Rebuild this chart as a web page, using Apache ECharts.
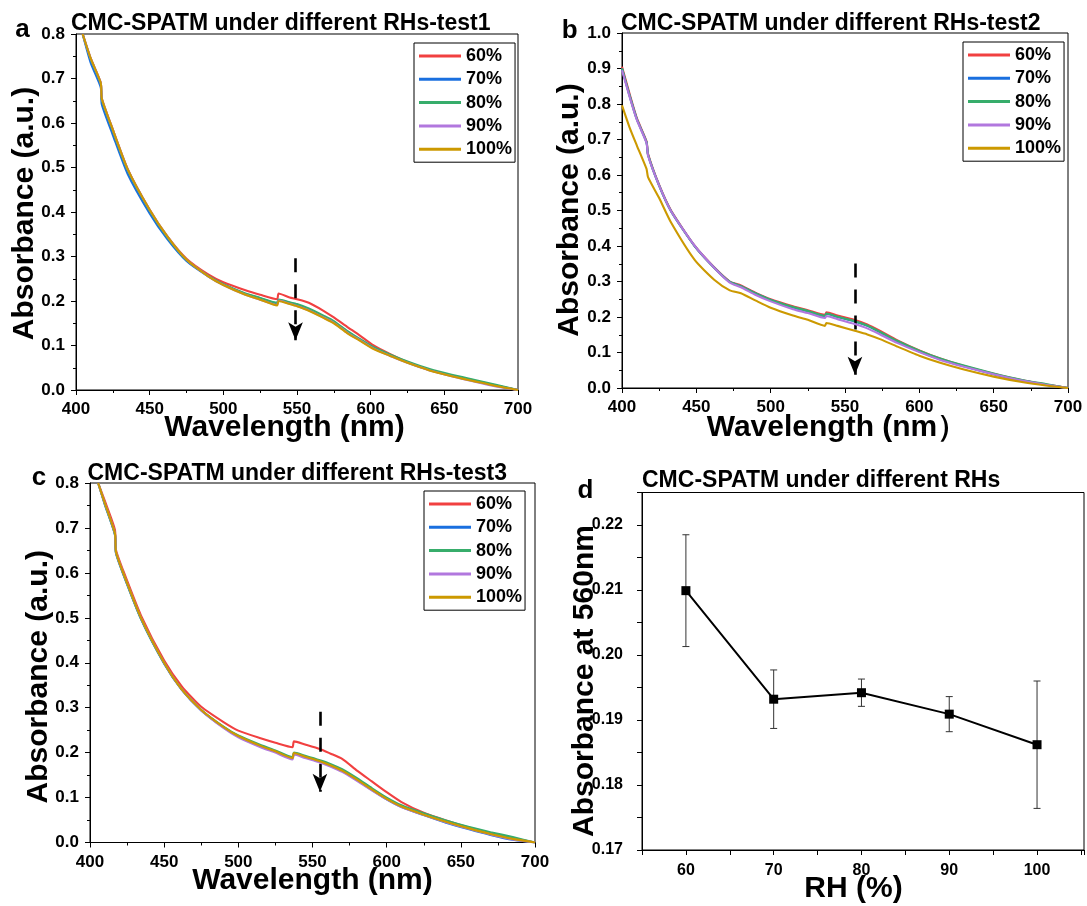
<!DOCTYPE html>
<html>
<head>
<meta charset="utf-8">
<script src="https://cdn.jsdelivr.net/npm/echarts@6/dist/echarts.min.js"></script>
<style>
html,body{margin:0;padding:0;background:#fff;}
#chart{width:1087px;height:906px;}
</style>
</head>
<body>
<div id="chart"></div>
<script>
// ---------------- DATA ----------------
const RH_NAMES = ['60%', '70%', '80%', '90%', '100%'];
const COLORS = ['#F14040', '#1A6FDF', '#37AD6B', '#B177DE', '#CC9900'];

// Panel a (test1)
const W_A = [404.5, 410, 416.8, 417.5, 425, 435, 450, 462, 475, 490, 500, 515, 525, 536.5, 537.5, 545, 550, 558, 568, 575, 584, 592, 602, 613, 625, 640, 655, 670, 685, 700];
const A60  = [0.800, 0.745, 0.690, 0.655, 0.585, 0.497, 0.405, 0.345, 0.295, 0.259, 0.242, 0.224, 0.214, 0.204, 0.217, 0.208, 0.204, 0.196, 0.178, 0.163, 0.142, 0.124, 0.100, 0.081, 0.063, 0.045, 0.032, 0.021, 0.010, 0.000];
const A70  = [0.800, 0.735, 0.680, 0.642, 0.573, 0.486, 0.397, 0.339, 0.290, 0.255, 0.237, 0.216, 0.206, 0.195, 0.202, 0.196, 0.191, 0.181, 0.165, 0.153, 0.131, 0.114, 0.094, 0.078, 0.062, 0.045, 0.032, 0.021, 0.010, 0.000];
const A80  = [0.800, 0.743, 0.688, 0.652, 0.582, 0.494, 0.403, 0.343, 0.292, 0.256, 0.238, 0.217, 0.207, 0.196, 0.203, 0.197, 0.193, 0.183, 0.167, 0.155, 0.133, 0.116, 0.096, 0.080, 0.064, 0.047, 0.034, 0.023, 0.012, 0.000];
const A90  = [0.800, 0.745, 0.690, 0.655, 0.585, 0.497, 0.405, 0.345, 0.293, 0.255, 0.236, 0.214, 0.203, 0.191, 0.201, 0.194, 0.189, 0.179, 0.163, 0.151, 0.129, 0.113, 0.093, 0.077, 0.061, 0.044, 0.031, 0.019, 0.008, 0.000];
const A100 = [0.800, 0.745, 0.690, 0.655, 0.585, 0.497, 0.405, 0.345, 0.293, 0.255, 0.236, 0.214, 0.203, 0.190, 0.200, 0.193, 0.188, 0.178, 0.162, 0.150, 0.128, 0.112, 0.092, 0.077, 0.061, 0.044, 0.031, 0.020, 0.009, 0.000];

// Panel b (test2)
const W_B = [400, 405, 410, 416.5, 417.5, 425, 433, 449, 462, 472.5, 480, 490, 500, 515, 525, 536.5, 537.5, 545, 556, 565, 574, 585, 600, 614, 630, 650, 670, 685, 700];
const B60  = [0.905, 0.830, 0.760, 0.695, 0.660, 0.572, 0.500, 0.400, 0.340, 0.300, 0.289, 0.268, 0.250, 0.230, 0.219, 0.206, 0.213, 0.204, 0.192, 0.179, 0.160, 0.135, 0.106, 0.083, 0.062, 0.040, 0.021, 0.010, 0.000];
const B70  = [0.900, 0.825, 0.757, 0.692, 0.657, 0.570, 0.498, 0.399, 0.339, 0.299, 0.287, 0.266, 0.248, 0.227, 0.216, 0.202, 0.209, 0.200, 0.188, 0.175, 0.156, 0.131, 0.103, 0.081, 0.061, 0.039, 0.020, 0.009, 0.000];
const B80  = [0.900, 0.825, 0.757, 0.692, 0.657, 0.570, 0.498, 0.399, 0.339, 0.299, 0.287, 0.266, 0.248, 0.228, 0.217, 0.203, 0.210, 0.201, 0.189, 0.176, 0.157, 0.133, 0.105, 0.083, 0.063, 0.041, 0.022, 0.011, 0.000];
const B90  = [0.895, 0.822, 0.755, 0.690, 0.655, 0.570, 0.498, 0.400, 0.339, 0.297, 0.284, 0.262, 0.244, 0.222, 0.211, 0.197, 0.203, 0.194, 0.181, 0.168, 0.150, 0.127, 0.101, 0.079, 0.060, 0.039, 0.020, 0.009, 0.000];
const B100 = [0.796, 0.735, 0.683, 0.617, 0.594, 0.535, 0.466, 0.360, 0.305, 0.275, 0.267, 0.246, 0.226, 0.204, 0.192, 0.175, 0.183, 0.175, 0.162, 0.151, 0.137, 0.117, 0.091, 0.071, 0.052, 0.032, 0.016, 0.007, 0.000];

// Panel c (test3)
const W_C = [405.5, 410, 416.8, 417.5, 422.4, 434.4, 450, 462, 475, 490, 500, 515, 525, 536.5, 537.5, 545, 555, 562, 570, 580, 590, 600, 610, 625, 640, 655, 670, 685, 700];
const C60  = [0.800, 0.760, 0.696, 0.651, 0.605, 0.505, 0.405, 0.347, 0.302, 0.268, 0.249, 0.232, 0.222, 0.212, 0.225, 0.218, 0.208, 0.198, 0.186, 0.160, 0.136, 0.112, 0.090, 0.066, 0.049, 0.034, 0.021, 0.010, 0.000];
const C70  = [0.800, 0.752, 0.685, 0.644, 0.597, 0.497, 0.398, 0.339, 0.294, 0.256, 0.236, 0.214, 0.202, 0.188, 0.198, 0.190, 0.180, 0.171, 0.159, 0.139, 0.117, 0.096, 0.079, 0.061, 0.044, 0.030, 0.017, 0.006, 0.000];
const C80  = [0.800, 0.753, 0.686, 0.645, 0.598, 0.498, 0.399, 0.340, 0.295, 0.258, 0.238, 0.217, 0.205, 0.190, 0.200, 0.193, 0.183, 0.175, 0.163, 0.143, 0.121, 0.100, 0.083, 0.065, 0.049, 0.035, 0.023, 0.012, 0.000];
const C90  = [0.800, 0.755, 0.688, 0.647, 0.600, 0.500, 0.400, 0.340, 0.294, 0.255, 0.234, 0.212, 0.200, 0.185, 0.196, 0.188, 0.178, 0.169, 0.157, 0.137, 0.116, 0.096, 0.079, 0.061, 0.045, 0.031, 0.018, 0.007, 0.000];
const C100 = [0.800, 0.755, 0.688, 0.647, 0.600, 0.500, 0.400, 0.340, 0.295, 0.257, 0.237, 0.215, 0.203, 0.188, 0.199, 0.191, 0.181, 0.172, 0.160, 0.140, 0.118, 0.097, 0.080, 0.062, 0.046, 0.032, 0.019, 0.008, 0.000];

// Panel d
const RH_X   = [60, 70, 80, 90, 100];
const ABS560 = [0.2099, 0.1932, 0.1942, 0.1909, 0.1862];
const ABS_ERR = [0.0086, 0.0045, 0.0021, 0.0027, 0.0098];

// Dashed arrows (data coords): wavelength, start value, tip value
const ARROW_X   = [549, 556.7, 555];
const ARROW_TOP = [0.296, 0.351, 0.291];
const ARROW_TIP = [0.112, 0.037, 0.113];

const TITLES = ['CMC-SPATM under different RHs-test1', 'CMC-SPATM under different RHs-test2', 'CMC-SPATM under different RHs-test3', 'CMC-SPATM under different RHs'];

// ---------------- CHART ----------------
const FONT = '"Liberation Sans", Arial, sans-serif';
const chart = echarts.init(document.getElementById('chart'), null, {renderer: 'canvas'});

const grids = [
  {left: 76, top: 34, width: 442, height: 356},
  {left: 622, top: 33, width: 446, height: 355},
  {left: 90, top: 483, width: 445, height: 359.5},
  {left: 642, top: 492.5, width: 445, height: 357.5}
].map(g => Object.assign({show: true, borderColor: '#000', borderWidth: 1, backgroundColor: 'transparent', containLabel: false}, g));

function baseAxis(gi) {
  return {
    gridIndex: gi, type: 'value',
    axisLine: {show: true, onZero: false, lineStyle: {color: '#000', width: 1}},
    axisTick: {show: true, inside: false, length: 5, lineStyle: {color: '#000', width: 1}},
    splitLine: {show: false}, minorSplitLine: {show: false},
    axisLabel: {color: '#000', fontWeight: 'bold', fontSize: 17, fontFamily: FONT, margin: 11}
  };
}

const xAxes = [], yAxes = [];
for (let i = 0; i < 3; i++) {
  xAxes.push(Object.assign(baseAxis(i), {min: 400, max: 700, interval: 50,
    minorTick: {show: true, splitNumber: 2, length: 3, lineStyle: {color: '#000'}}}));
  const ymax = i === 1 ? 1.0 : 0.8;
  yAxes.push(Object.assign(baseAxis(i), {min: 0, max: ymax, interval: 0.1,
    minorTick: {show: true, splitNumber: 2, length: 3, lineStyle: {color: '#000'}}}));
  yAxes[i].axisLabel.formatter = v => v.toFixed(1);
}
const xd = baseAxis(3);
Object.assign(xd, {min: 55, max: 105.35, interval: 5});
xd.axisLabel.fontSize = 16;
xd.axisLabel.margin = 13;
xd.axisLabel.formatter = v => (v % 10 === 0 && v >= 60 && v <= 100) ? String(v) : '';
xAxes.push(xd);
const yd = baseAxis(3);
Object.assign(yd, {min: 0.17, max: 0.225, interval: 0.005});
yd.axisLabel.fontSize = 16;
yd.axisLabel.margin = 19;
yd.axisLabel.formatter = v => {
  const k = v * 100;
  return (Math.abs(k - Math.round(k)) < 1e-6 && v < 0.2249) ? v.toFixed(2) : '';
};
yAxes.push(yd);

const panels = [
  {w: W_A, s: [A60, A70, A80, A90, A100]},
  {w: W_B, s: [B60, B70, B80, B90, B100]},
  {w: W_C, s: [C60, C70, C80, C90, C100]}
];

const series = [];
panels.forEach((p, pi) => {
  p.s.forEach((vals, si) => {
    const ser = {
      type: 'line', name: RH_NAMES[si], xAxisIndex: pi, yAxisIndex: pi,
      data: p.w.map((w, k) => [w, vals[k]]),
      showSymbol: false, symbol: 'none', smooth: 0.2, clip: true,
      lineStyle: {color: COLORS[si], width: 2.1},
      itemStyle: {color: COLORS[si]},
      z: 2 + si
    };
    if (si === 4) {
      ser.markLine = {
        silent: true, animation: false,
        symbol: ['none', 'arrow'], symbolSize: [11, 18],
        label: {show: false},
        lineStyle: {color: '#000', width: 2.6, type: [14, 12]},
        data: [[{coord: [ARROW_X[pi], ARROW_TOP[pi]]}, {coord: [ARROW_X[pi], ARROW_TIP[pi]]}]]
      };
    }
    series.push(ser);
  });
});

// Panel d: error bars + line with square markers
series.push({
  type: 'custom', name: 'err', xAxisIndex: 3, yAxisIndex: 3, z: 3,
  encode: {x: 0, y: [1, 2]},
  data: RH_X.map((x, i) => [x, ABS560[i] - ABS_ERR[i], ABS560[i] + ABS_ERR[i]]),
  renderItem: function (params, api) {
    const x = api.value(0);
    const lo = api.coord([x, api.value(1)]);
    const hi = api.coord([x, api.value(2)]);
    const cap = 3.5;
    const st = {stroke: '#333', lineWidth: 1};
    return {type: 'group', children: [
      {type: 'line', shape: {x1: lo[0], y1: lo[1], x2: hi[0], y2: hi[1]}, style: st},
      {type: 'line', shape: {x1: lo[0] - cap, y1: lo[1], x2: lo[0] + cap, y2: lo[1]}, style: st},
      {type: 'line', shape: {x1: hi[0] - cap, y1: hi[1], x2: hi[0] + cap, y2: hi[1]}, style: st}
    ]};
  }
});
series.push({
  type: 'line', name: 'Absorbance at 560nm', xAxisIndex: 3, yAxisIndex: 3, z: 4,
  data: RH_X.map((x, i) => [x, ABS560[i]]),
  symbol: 'rect', symbolSize: 9, showSymbol: true,
  lineStyle: {color: '#000', width: 2}, itemStyle: {color: '#000'}
});

const legendPos = [{left: 414, top: 43}, {left: 963, top: 42}, {left: 424, top: 491}];
const legends = legendPos.map(p => ({
  data: RH_NAMES, orient: 'vertical', left: p.left, top: p.top,
  icon: 'rect', itemWidth: 42, itemHeight: 3, itemGap: 5.3,
  borderColor: '#000', borderWidth: 1, padding: [4, 3, 4, 5],
  textStyle: {color: '#000', fontWeight: 'bold', fontSize: 18, fontFamily: FONT, lineHeight: 18},
  selectedMode: false
}));

const titlePos = [{left: 71, top: 12}, {left: 621, top: 12}, {left: 87.5, top: 462}, {left: 642, top: 469}];
const titles = titlePos.map((p, i) => ({
  text: TITLES[i], left: p.left, top: p.top, padding: 0,
  textStyle: {color: '#000', fontWeight: 'bold', fontSize: 23, fontFamily: FONT}
}));

function txt(x, y, text, size, rot) {
  return {type: 'text', x: x, y: y, rotation: rot || 0, silent: true,
    style: {text: text, fill: '#000', font: 'bold ' + size + 'px ' + FONT, align: 'center', verticalAlign: 'middle'}};
}
const graphics = [
  txt(22.4, 29.5, 'a', 26), txt(569.6, 31, 'b', 26), txt(39, 477.6, 'c', 26), txt(585.5, 491, 'd', 26),
  txt(25, 213.5, 'Absorbance (a.u.)', 30, Math.PI / 2),
  txt(569.6, 210, 'Absorbance (a.u.)', 30, Math.PI / 2),
  txt(39, 676.7, 'Absorbance (a.u.)', 30, Math.PI / 2),
  txt(585, 681, 'Absorbance at 560nm', 30, Math.PI / 2),
  txt(284.5, 428, 'Wavelength (nm)', 30),
  txt(837, 428, 'Wavelength (nm）', 30),
  txt(312.5, 880.5, 'Wavelength (nm)', 30),
  txt(853.5, 888.5, 'RH (%)', 30)
];

chart.setOption({
  animation: false,
  backgroundColor: '#fff',
  title: titles,
  legend: legends,
  grid: grids,
  xAxis: xAxes,
  yAxis: yAxes,
  series: series,
  graphic: graphics
});
</script>
</body>
</html>
